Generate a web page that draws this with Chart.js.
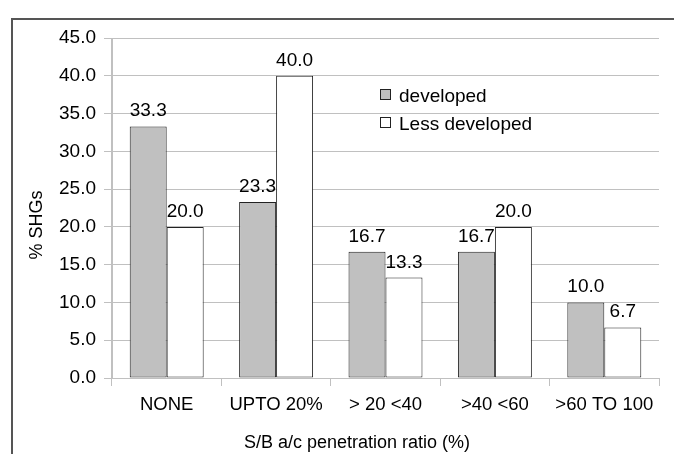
<!DOCTYPE html>
<html>
<head>
<meta charset="utf-8">
<script src="https://cdn.jsdelivr.net/npm/chart.js@4.4.0/dist/chart.umd.min.js"></script>
<style>
  body { margin: 0; background: #fff; }
  #wrap { position: relative; width: 674px; height: 454px; overflow: hidden; }
  #frame { position: absolute; left: 11px; top: 18px; width: 700px; height: 500px;
           border-left: 2px solid #555; border-top: 2px solid #555; }
  canvas { position: absolute; left: 0; top: 0; }
</style>
</head>
<body>
<div id="wrap">
  <div id="frame"></div>
  <canvas id="chart" width="674" height="454"></canvas>
</div>
<script>
const categories = ['NONE', 'UPTO 20%', '> 20 <40', '>40 <60', '>60 TO 100'];
const developed = [33.3, 23.3, 16.7, 16.7, 10.0];
const lessDeveloped = [20.0, 40.0, 13.3, 20.0, 6.7];
const seriesNames = ['developed', 'Less developed'];
const seriesColors = ['#c0c0c0', '#ffffff'];
const yTitle = '% SHGs';
const xTitle = 'S/B a/c penetration ratio (%)';

const FONT = '"Liberation Sans", Arial, sans-serif';

// numbers above the bars
const valueLabels = {
    id: 'valueLabels',
    afterDatasetsDraw(chart) {
        const ctx = chart.ctx;
        ctx.save();
        ctx.font = '19px ' + FONT;
        ctx.fillStyle = '#000';
        ctx.textAlign = 'center';
        ctx.textBaseline = 'alphabetic';
        chart.data.datasets.forEach((ds, i) => {
            chart.getDatasetMeta(i).data.forEach((bar, j) => {
                ctx.fillText(ds.data[j].toFixed(1), bar.x, bar.y - 10);
            });
        });
        ctx.restore();
    }
};

// legend inside the plot + axis titles
const extras = {
    id: 'extras',
    afterDraw(chart) {
        const ctx = chart.ctx;
        ctx.save();
        ctx.font = '19px ' + FONT;
        ctx.textAlign = 'left';
        ctx.textBaseline = 'alphabetic';
        seriesNames.forEach((name, i) => {
            const y = 89 + i * 28;
            ctx.fillStyle = seriesColors[i];
            ctx.fillRect(380, y, 11, 11);
            ctx.strokeStyle = '#222';
            ctx.lineWidth = 1;
            ctx.strokeRect(380.5, y + 0.5, 10, 10);
            ctx.fillStyle = '#000';
            ctx.fillText(name, 399, y + 13);
        });

        ctx.font = '18px ' + FONT;
        ctx.textAlign = 'center';
        ctx.fillText(xTitle, 357, 448);

        ctx.translate(42, 225);
        ctx.rotate(-Math.PI / 2);
        ctx.fillText(yTitle, 0, 0);
        ctx.restore();
    }
};

new Chart(document.getElementById('chart'), {
    type: 'bar',
    data: {
        labels: categories,
        datasets: [
            {
                label: seriesNames[0],
                data: developed,
                backgroundColor: seriesColors[0],
                borderColor: '#222',
                borderWidth: 1,
                borderSkipped: false
            },
            {
                label: seriesNames[1],
                data: lessDeveloped,
                backgroundColor: seriesColors[1],
                borderColor: '#222',
                borderWidth: 1,
                borderSkipped: false
            }
        ]
    },
    options: {
        responsive: false,
        animation: false,
        layout: { padding: { left: 0, right: 15, top: 38, bottom: 0 } },
        datasets: { bar: { categoryPercentage: 0.676, barPercentage: 1.0 } },
        scales: {
            x: {
                afterFit: (scale) => { scale.height = 76; },
                grid: {
                    offset: true,
                    color: (c) => (c.index === 0 || c.index === categories.length) ? '#c0c0c0' : 'transparent',
                    tickColor: '#c0c0c0',
                    tickLength: 8
                },
                border: { color: '#c0c0c0' },
                ticks: { color: '#000', font: { family: FONT, size: 18.5 }, padding: 8, maxRotation: 0 }
            },
            y: {
                min: 0,
                max: 45,
                afterFit: (scale) => { scale.width = 112; },
                grid: { color: '#c0c0c0', tickLength: 8 },
                border: { color: '#c0c0c0' },
                ticks: {
                    stepSize: 5,
                    color: '#000',
                    font: { family: FONT, size: 19 },
                    padding: 8,
                    callback: (v) => v.toFixed(1)
                }
            }
        },
        plugins: {
            legend: { display: false },
            tooltip: { enabled: false }
        }
    },
    plugins: [valueLabels, extras]
});
</script>
</body>
</html>
